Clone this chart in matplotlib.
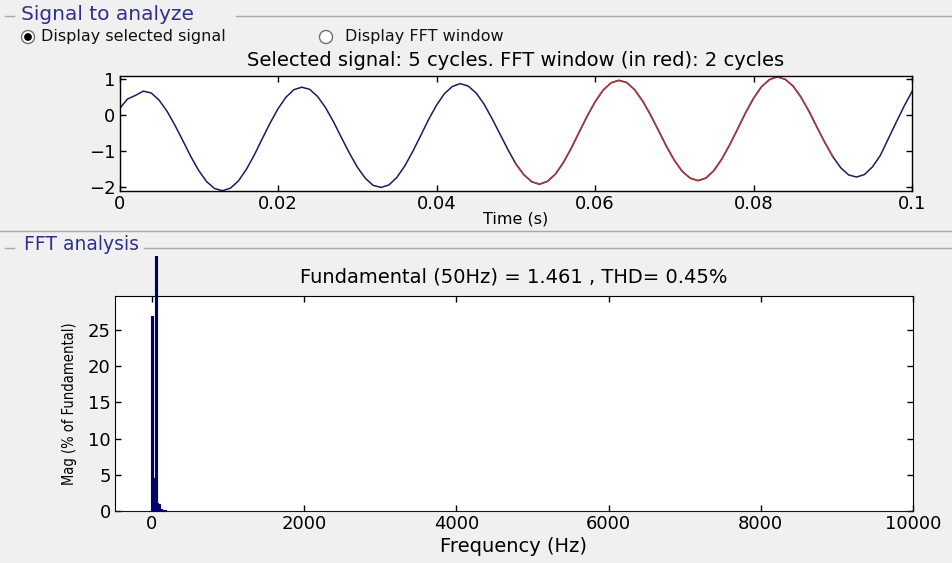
import matplotlib
matplotlib.use("Agg")
import matplotlib.pyplot as plt
import numpy as np
from matplotlib.patches import Ellipse
from matplotlib.lines import Line2D
from matplotlib.transforms import Bbox, TransformedBbox

# ---------------- data ----------------
time_ms = list(range(0, 101))
signal = [0.18, 0.45, 0.55, 0.67, 0.62, 0.42, 0.11, -0.28, -0.71, -1.15,
          -1.54, -1.85, -2.04, -2.10, -2.03, -1.83, -1.51, -1.11, -0.66, -0.22,
          0.18, 0.50, 0.71, 0.78, 0.72, 0.52, 0.21, -0.18, -0.62, -1.05,
          -1.44, -1.75, -1.95, -2.01, -1.94, -1.73, -1.41, -1.01, -0.57, -0.12,
          0.28, 0.60, 0.80, 0.88, 0.81, 0.62, 0.31, -0.09, -0.52, -0.95,
          -1.35, -1.65, -1.85, -1.92, -1.84, -1.64, -1.32, -0.92, -0.47, -0.03,
          0.37, 0.69, 0.90, 0.97, 0.91, 0.71, 0.40, 0.01, -0.42, -0.86,
          -1.25, -1.56, -1.75, -1.82, -1.75, -1.54, -1.22, -0.82, -0.38, 0.07,
          0.47, 0.79, 0.99, 1.07, 1.00, 0.81, 0.50, 0.11, -0.33, -0.76,
          -1.15, -1.46, -1.66, -1.72, -1.65, -1.44, -1.12, -0.66, -0.20, 0.25,
          0.66]
window_start_ms = 50
window_end_ms = 90

freq_bins = [0, 25, 50, 75, 100, 125, 150, 175]
mag_pct = [27.0, 4.6, 100.0, 1.1, 1.0, 0.3, 0.2, 0.1]

sig_title = "Selected signal: 5 cycles. FFT window (in red): 2 cycles"
fft_title = "Fundamental (50Hz) = 1.461 , THD= 0.45%"
time_ticks = [0, 0.02, 0.04, 0.06, 0.08, 0.1]
time_ticklabels = ["0", "0.02", "0.04", "0.06", "0.08", "0.1"]
sig_yticks = [-2, -1, 0, 1]
freq_ticks = [0, 2000, 4000, 6000, 8000, 10000]
mag_yticks = [0, 5, 10, 15, 20, 25]

# ---------------- figure ----------------
W, H = 952, 563
fig = plt.figure(figsize=(W / 100, H / 100), dpi=100, facecolor="#f0f0f0")
plt.rcParams["font.family"] = ["DejaVu Sans"]

def fx(px):
    return px / W

def fy(py):
    return 1 - py / H

BLUE_TXT = "#30308a"
NAVY = "#1c1c5c"
RED = "#b03a3a"
GRAY = "#a8a8a8"
TICK_FS = 13

# group box: Signal to analyze
fig.add_artist(Line2D([fx(5), fx(14)], [fy(16), fy(16)], color=GRAY, lw=1))
fig.add_artist(Line2D([fx(236), fx(952)], [fy(16), fy(16)], color=GRAY, lw=1))
fig.text(fx(21), fy(15), "Signal to analyze", color=BLUE_TXT, fontsize=14.5,
         va="center", ha="left")

# radio buttons
def radio(cx, cy, filled):
    fig.add_artist(Ellipse((fx(cx), fy(cy)), 13 / W, 13 / H,
                           transform=fig.transFigure, facecolor="white",
                           edgecolor="#707070", lw=1))
    if filled:
        fig.add_artist(Ellipse((fx(cx), fy(cy)), 7 / W, 7 / H,
                               transform=fig.transFigure, facecolor="black",
                               edgecolor="black", lw=0.5))

radio(28, 37, True)
fig.text(fx(41), fy(37), "Display selected signal", fontsize=11.5, va="center",
         ha="left", color="#111111")
radio(326, 37, False)
fig.text(fx(345), fy(37), "Display FFT window", fontsize=11.5, va="center",
         ha="left", color="#111111")

# ---------------- top axes ----------------
ax1 = fig.add_axes([fx(119.5), fy(190.7), fx(912) - fx(119.5), fy(75.7) - fy(190.7)])
t = np.array(time_ms) / 1000.0
s = np.array(signal)
ax1.plot(t, s, color=NAVY, lw=1.1)
mask = (np.array(time_ms) >= window_start_ms) & (np.array(time_ms) <= window_end_ms)
ax1.plot(t[mask], s[mask], color=RED, lw=1.1)
ax1.set_xlim(0, 0.1)
ax1.set_ylim(-2.1, 1.1)
ax1.set_xticks(time_ticks)
ax1.set_xticklabels(time_ticklabels)
ax1.set_yticks(sig_yticks)
ax1.tick_params(direction="in", top=True, right=True, labelsize=TICK_FS,
                length=4, width=1, pad=3)
ax1.set_title(sig_title, fontsize=14, pad=7)
ax1.set_xlabel("Time (s)", fontsize=11.5, labelpad=-1)
for sp in ax1.spines.values():
    sp.set_linewidth(1)

# separators
fig.add_artist(Line2D([0, 1], [fy(231), fy(231)], color=GRAY, lw=1))
fig.add_artist(Line2D([fx(5), fx(14)], [fy(248), fy(248)], color=GRAY, lw=1))
fig.add_artist(Line2D([fx(144), fx(952)], [fy(248), fy(248)], color=GRAY, lw=1))
fig.text(fx(24), fy(245), "FFT analysis", color=BLUE_TXT, fontsize=13.5,
         va="center", ha="left")

# ---------------- bottom axes ----------------
ax2 = fig.add_axes([fx(115), fy(511), fx(913) - fx(115), fy(296) - fy(511)])
bars = ax2.bar(freq_bins, mag_pct, width=22, color="#000070",
               edgecolor="#000070", linewidth=0.8, zorder=3)
ax2.set_xlim(-485, 9985)
ax2.set_ylim(0, 29.7)
ax2.set_xticks(freq_ticks)
ax2.set_yticks(mag_yticks)
ax2.tick_params(direction="in", top=True, right=True, labelsize=TICK_FS,
                length=4, width=1, pad=3)
ax2.set_xlabel("Frequency (Hz)", fontsize=14, labelpad=3)
ax2.set_ylabel("Mag (% of Fundamental)", fontsize=10.5, labelpad=8,
               fontstretch="condensed")
ax2.text(0.5, 1.0 + (19 / 215), fft_title, transform=ax2.transAxes,
         ha="center", va="center", fontsize=14)
ax2.spines["bottom"].set_color("#101050")

# fundamental bar extends above the axes, clipped at the panel top
clipbb = TransformedBbox(Bbox([[0, 0], [1, fy(256)]]), fig.transFigure)
for b in bars:
    b.set_clip_path(None)
    b.set_clip_box(clipbb)
    b.set_clip_on(True)

fig.savefig("out.png", dpi=100, facecolor=fig.get_facecolor())
